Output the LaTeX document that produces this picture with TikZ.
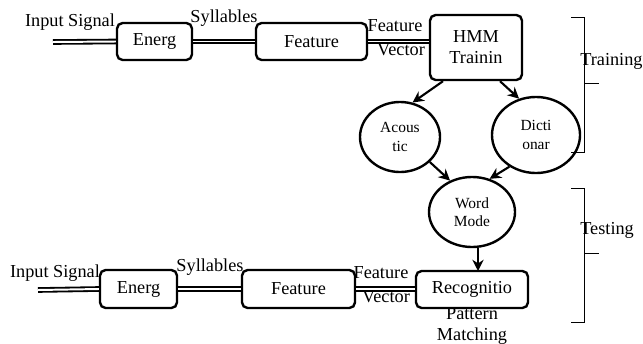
\documentclass[tikz,border=0pt]{standalone}
\usepackage{fontspec}
\setmainfont{Liberation Serif}
\usetikzlibrary{arrows.meta,shapes.geometric}

\tikzset{
  blk/.style={draw, line width=1.7pt, rounded corners=4pt, inner sep=0pt, font=\fontsize{13}{15}\selectfont},
  circ/.style={draw, line width=1.7pt, ellipse, inner sep=0pt, align=center, font=\fontsize{11}{13}\selectfont},
  lbl/.style={inner sep=0pt, font=\fontsize{13}{15}\selectfont, align=center},
  dbl/.style={draw, line width=1.3pt, double=white, double distance=1.4pt},
  arr/.style={line width=1.5pt, -{Stealth[length=8pt,width=8pt]}},
  brk/.style={line width=0.6pt}
}

\begin{document}
\begin{tikzpicture}[x=0.025cm, y=-0.025cm]
        \useasboundingbox (0,0) rectangle (643,343);
        % training row
        \node[blk, minimum width=1.875cm, minimum height=0.925cm] (en1) at (154.5,41.5) {Energ};
        \node[blk, minimum width=2.775cm, minimum height=0.925cm] (fe1) at (311.5,41.5) {Feature};
        \node[blk, minimum width=2.3cm, minimum height=1.625cm, align=center] (hmm) at (476,47.5) {HMM\\Trainin};
        \coordinate (in1) at (53,42);
        \draw[dbl] (in1) -- (en1.west);
        \draw[dbl] (en1.east) -- (fe1.west);
        \draw[dbl] (fe1.east) -- (hmm.west |- fe1.east);
        \node[lbl] (sig1) at (70,22) {Input Signal};
        \node[lbl] (syl1) at (224,18) {Syllables};
        \node[lbl] (fv1a) at (395,26) {Feature};
        \node[lbl] (fv1b) at (401,50) {Vector};
        % models
        \node[circ, minimum width=2cm, minimum height=1.75cm] (ac) at (400,137) {Acous\\tic};
        \node[circ, minimum width=2.2cm, minimum height=1.9cm] (di) at (536,135) {Dicti\\onar};
        \node[circ, minimum width=2.15cm, minimum height=1.75cm] (wm) at (472,212) {Word\\Mode};
        \draw[arr] ([xshift=-0.825cm]hmm.south) -- (ac.70);
        \draw[arr] ([xshift=0.6cm]hmm.south) -- (di.115);
        \draw[arr] (ac.-40) -- (wm.125);
        \draw[arr] (di.-130) -- (wm.62);
        \draw[arr] ([xshift=0.15cm]wm.south) -- ([xshift=0.15cm]wm.south |- 0,271);
        % testing row
        \node[blk, minimum width=1.925cm, minimum height=0.95cm] (en2) at (138.5,289) {Energ};
        \node[blk, minimum width=2.825cm, minimum height=0.95cm] (fe2) at (298.5,289) {Feature};
        \node[blk, minimum width=2.8cm, minimum height=0.925cm] (rec) at (472,289.5) {Recognitio};
        \coordinate (in2) at (38,290);
        \draw[dbl] (in2) -- (en2.west);
        \draw[dbl] (en2.east) -- (fe2.west);
        \draw[dbl] (fe2.east) -- (rec.west |- fe2.east);
        \node[lbl] (sig2) at (55,273) {Input Signal};
        \node[lbl] (syl2) at (210,267) {Syllables};
        \node[lbl] (fv2a) at (381,273) {Feature};
        \node[lbl] (fv2b) at (386,297) {Vector};
        \node[lbl] (pm) at (472,326) {Pattern\\Matching};
        % phases
        \draw[brk] (571,17) -- (584,17) -- (584,152) -- (571,152);
        \draw[brk] (584,83) -- (599,83);
        \node[lbl, right] (trn) at (580,61) {Training};
        \draw[brk] (571,188) -- (584,188) -- (584,322) -- (571,322);
        \draw[brk] (584,253) -- (599,253);
        \node[lbl, right] (tst) at (580,230) {Testing};
\end{tikzpicture}
\end{document}
